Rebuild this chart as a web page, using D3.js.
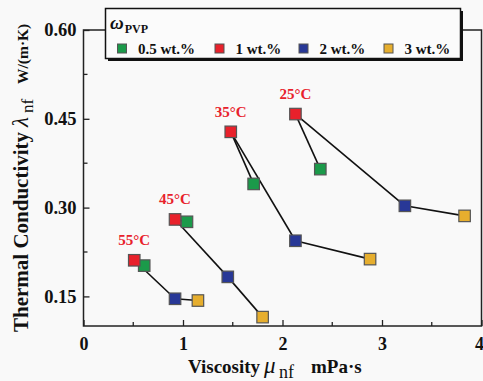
<!DOCTYPE html>
<html><head><meta charset="utf-8">
<script src="https://cdn.jsdelivr.net/npm/d3@7"></script>
<style>
html,body{margin:0;padding:0;background:#f9f9f9;}
svg{display:block;font-family:"Liberation Serif","Times New Roman",serif;}
</style></head>
<body>
<svg id="c" width="483" height="381"></svg>
<script>
// ---- data ----
const temps = ["25°C", "35°C", "45°C", "55°C"];
const seriesNames = ["0.5 wt.%", "1 wt.%", "2 wt.%", "3 wt.%"];
const seriesColors = ["#1b9a4a", "#e8212b", "#283897", "#e6ae2e"];
// viscosity (mPa·s) per temperature, for each PVP mass fraction
const visc05 = [2.38, 1.71, 1.04, 0.61];
const visc1  = [2.13, 1.48, 0.92, 0.51];
const visc2  = [3.23, 2.13, 1.45, 0.92];
const visc3  = [3.83, 2.88, 1.80, 1.15];
// thermal conductivity W/(m·K)
const cond05 = [0.365, 0.340, 0.276, 0.202];
const cond1  = [0.458, 0.428, 0.280, 0.211];
const cond2  = [0.303, 0.244, 0.183, 0.146];
const cond3  = [0.286, 0.213, 0.115, 0.143];
const xTicks = [0, 1, 2, 3, 4];
const xMinor = [0.5, 1.5, 2.5, 3.5];
const yTicks = [0.15, 0.30, 0.45, 0.60];
const yMinor = [0.225, 0.375, 0.525];

const viscs = [visc05, visc1, visc2, visc3];
const conds = [cond05, cond1, cond2, cond3];

const svg = d3.select("#c");
const L = 83.5, R = 481.5, T = 30, B = 326;
const x = d3.scaleLinear().domain([0, 4]).range([L, R]);
const y = d3.scaleLinear().domain([0.1, 0.6]).range([B, T]);

// frame
svg.append("rect").attr("x", L).attr("y", T).attr("width", R - L).attr("height", B - T)
  .attr("fill", "none").attr("stroke", "#222").attr("stroke-width", 1.5);

// x axis
const xAx = svg.append("g").attr("transform", `translate(0,${B})`)
  .call(d3.axisBottom(x).tickValues(xTicks).tickSizeInner(-6).tickSizeOuter(0).tickPadding(11).tickFormat(d3.format("d")));
xAx.select(".domain").remove();
xAx.selectAll(".tick line").attr("stroke", "#222").attr("stroke-width", 1.3);
xAx.selectAll("text").attr("font-size", 18).attr("font-weight", "bold").attr("fill", "#111")
  .attr("font-family", "Liberation Serif")
  .attr("text-anchor", d => d === 4 ? "end" : "middle")
  .attr("dx", d => d === 4 ? 2 : 0);
svg.append("g").selectAll("line").data(xMinor).join("line")
  .attr("x1", d => x(d)).attr("x2", d => x(d)).attr("y1", B).attr("y2", B - 4)
  .attr("stroke", "#222").attr("stroke-width", 1.3);

// y axis
const yAx = svg.append("g").attr("transform", `translate(${L},0)`)
  .call(d3.axisLeft(y).tickValues(yTicks).tickSizeInner(-6).tickSizeOuter(0).tickPadding(7).tickFormat(d3.format(".2f")));
yAx.select(".domain").remove();
yAx.selectAll(".tick line").attr("stroke", "#222").attr("stroke-width", 1.3);
yAx.selectAll("text").attr("font-size", 18.5).attr("font-weight", "bold").attr("fill", "#111")
  .attr("font-family", "Liberation Serif");
svg.append("g").selectAll("line").data(yMinor).join("line")
  .attr("x1", L).attr("x2", L + 4).attr("y1", d => y(d)).attr("y2", d => y(d))
  .attr("stroke", "#222").attr("stroke-width", 1.3);

// axis titles
const xt = svg.append("text").attr("y", 373)
  .attr("font-size", 19).attr("font-weight", "bold").attr("fill", "#111");
xt.append("tspan").attr("x", 188).text("Viscosity");
xt.append("tspan").attr("x", 264).attr("font-style", "italic").attr("font-weight", "normal").attr("font-size", 23).text("μ");
xt.append("tspan").attr("x", 279).attr("font-weight", "normal").attr("font-size", 18).attr("dy", 5).text("nf");
xt.append("tspan").attr("x", 311).attr("dy", -5).text("mPa·s");

const yt = svg.append("text").attr("transform", "translate(28,332) rotate(-90)")
  .attr("font-weight", "bold").attr("fill", "#111");
yt.append("tspan").attr("x", 0).attr("font-size", 21).text("Thermal Conductivity");
yt.append("tspan").attr("x", 205).attr("font-style", "italic").attr("font-weight", "normal").attr("font-size", 23).text("λ");
yt.append("tspan").attr("x", 219).attr("font-weight", "normal").attr("font-size", 17).attr("dy", 5).text("nf");
yt.append("tspan").attr("x", 248).attr("dy", -5).attr("font-size", 15.5).text("W/(m·K)");

// connecting lines: 1wt red -> 0.5wt green, 1wt red -> 2wt blue, 2wt blue -> 3wt yellow
const links = [[1, 0], [1, 2], [2, 3]];
const gl = svg.append("g");
temps.forEach((t, i) => {
  links.forEach(([a, b]) => {
    gl.append("line")
      .attr("x1", x(viscs[a][i])).attr("y1", y(conds[a][i]))
      .attr("x2", x(viscs[b][i])).attr("y2", y(conds[b][i]))
      .attr("stroke", "#111").attr("stroke-width", 1.6);
  });
});

// squares
const S = 11.5;
const gp = svg.append("g");
seriesNames.forEach((s, k) => {
  gp.selectAll(null).data(temps.map((t, i) => ({ vx: viscs[k][i], vy: conds[k][i] })))
    .join("rect")
    .attr("x", d => x(d.vx) - S / 2).attr("y", d => y(d.vy) - S / 2)
    .attr("width", S).attr("height", S)
    .attr("fill", seriesColors[k]).attr("stroke", "#555").attr("stroke-width", 1.2);
});

// temperature labels above the 1 wt.% points
svg.append("g").selectAll("text").data(temps).join("text")
  .attr("x", (d, i) => x(visc1[i])).attr("y", (d, i) => y(cond1[i]) - 15)
  .attr("text-anchor", "middle").attr("font-size", 15).attr("font-weight", "bold")
  .attr("fill", "#e8212b").text(d => d);

// legend
const lg = svg.append("g");
lg.append("rect").attr("x", 108).attr("y", 11).attr("width", 355).attr("height", 50).attr("fill", "#111");
lg.append("rect").attr("x", 105.5).attr("y", 8.5).attr("width", 355).attr("height", 50)
  .attr("fill", "#fbfbfb").attr("stroke", "#111").attr("stroke-width", 1.5);
const lt = lg.append("text").attr("x", 110).attr("y", 29).attr("fill", "#111");
lt.append("tspan").attr("font-style", "italic").attr("font-weight", "bold").attr("font-size", 19).text("ω");
lt.append("tspan").attr("font-weight", "bold").attr("font-size", 12).attr("dy", 4).attr("dx", 1).text("PVP");
const legX = [122, 219.5, 303.5, 388.5];
seriesNames.forEach((s, k) => {
  lg.append("rect").attr("x", legX[k] - 4.5).attr("y", 44).attr("width", 9).attr("height", 9)
    .attr("fill", seriesColors[k]).attr("stroke", "#555").attr("stroke-width", 1);
  lg.append("text").attr("x", legX[k] + 16).attr("y", 53.5).attr("font-size", 15).attr("font-weight", "bold")
    .attr("fill", "#111").text(s);
});
</script>
</body></html>
